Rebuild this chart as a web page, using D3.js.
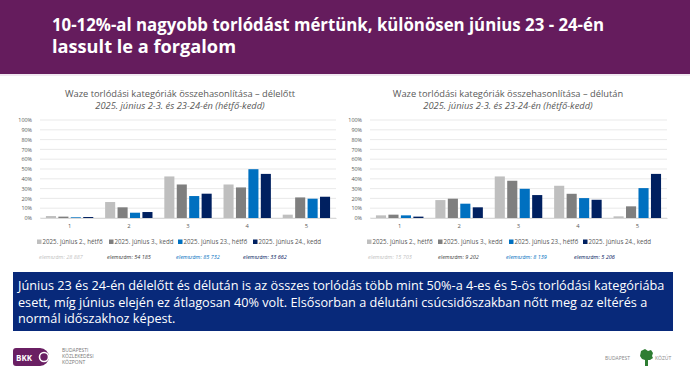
<!DOCTYPE html>
<html>
<head>
<meta charset="utf-8">
<script src="https://cdn.jsdelivr.net/npm/d3@7"></script>
<style>
  body { margin: 0; background: #fff; }
  svg { display: block; font-family: "Open Sans", "Noto Sans", sans-serif; }
</style>
</head>
<body>
<svg id="slide" width="690" height="374"></svg>
<script>
// categories and series
const categories = ["1", "2", "3", "4", "5"];
const seriesNames = ["2025. június 2., hétfő", "2025. június 3., kedd", "2025. június 23., hétfő", "2025. június 24., kedd"];
const seriesColors = ["#bfbfbf", "#7f7f7f", "#0070c0", "#002060"];
const countColors = ["#bfbfbf", "#404040", "#0070c0", "#002060"];

// délelőtt (%)
const amJun2 = [2.0, 16.3, 42.4, 34.2, 3.4];
const amJun3 = [1.4, 10.9, 34.2, 31.2, 21.0];
const amJun23 = [0.7, 5.4, 22.4, 49.8, 19.7];
const amJun24 = [1.0, 6.1, 24.8, 45.0, 21.7];
const amCounts = ["28 887", "54 185", "85 732", "33 662"];

// délután (%)
const pmJun2 = [2.7, 18.3, 42.4, 32.9, 1.7];
const pmJun3 = [3.4, 19.7, 38.0, 24.7, 11.9];
const pmJun23 = [2.7, 14.6, 29.8, 20.3, 30.5];
const pmJun24 = [1.4, 10.9, 23.4, 18.6, 45.0];
const pmCounts = ["15 703", "9 202", "8 139", "5 206"];

const yTicks = [0, 10, 20, 30, 40, 50, 60, 70, 80, 90, 100];

const svg = d3.select("#slide");

// header
svg.append("rect").attr("x", 0).attr("y", 0).attr("width", 690).attr("height", 74).attr("fill", "#651c5d");
svg.append("rect").attr("x", 0).attr("y", 74).attr("width", 690).attr("height", 2).attr("fill", "#f1e8f1");
svg.append("text").attr("x", 52).attr("y", 31)
  .attr("fill", "#fff").attr("font-size", 18).attr("font-weight", "bold")
  .attr("textLength", 552).attr("lengthAdjust", "spacingAndGlyphs")
  .text("10-12%-al nagyobb torlódást mértünk, különösen június  23 - 24-én");
svg.append("text").attr("x", 52).attr("y", 53)
  .attr("fill", "#fff").attr("font-size", 18).attr("font-weight", "bold")
  .attr("textLength", 184).attr("lengthAdjust", "spacingAndGlyphs")
  .text("lassult le a forgalom");

function drawChart(opts) {
  const g = svg.append("g");
  const x = d3.scaleBand().domain(categories).range([opts.left, opts.right]).paddingInner(0.2).paddingOuter(0.1);
  const xs = d3.scaleBand().domain(d3.range(seriesNames.length)).range([0, x.bandwidth()]).paddingInner(0.19);
  const y = d3.scaleLinear().domain([0, 100]).range([218, 120]);

  // titles
  g.append("text").attr("x", opts.titleX).attr("y", 97).attr("text-anchor", "middle")
    .attr("font-size", 9.3).attr("fill", "#595959").text(opts.title);
  g.append("text").attr("x", opts.titleX).attr("y", 109).attr("text-anchor", "middle")
    .attr("font-size", 9.3).attr("font-style", "italic").attr("fill", "#595959")
    .text("2025. június 2-3. és 23-24-én (hétfő-kedd)");

  // grid
  g.selectAll(".grid").data(yTicks).join("line")
    .attr("x1", opts.left).attr("x2", opts.right)
    .attr("y1", d => y(d)).attr("y2", d => y(d))
    .attr("stroke", "#e3e3e3").attr("stroke-width", 0.8);

  const yAxis = g.append("g").attr("transform", `translate(${opts.left - 5},0)`)
    .call(d3.axisLeft(y).tickValues(yTicks).tickSize(0).tickFormat(d => d + "%"));
  yAxis.select(".domain").remove();
  yAxis.selectAll("text").attr("font-size", 5.4).attr("fill", "#595959").attr("font-family", "Open Sans, sans-serif");

  const xAxis = g.append("g").attr("transform", "translate(0,218)")
    .call(d3.axisBottom(x).tickSize(0).tickPadding(6));
  xAxis.select(".domain").attr("stroke", "#d9d9d9");
  xAxis.selectAll("text").attr("font-size", 5.8).attr("fill", "#595959").attr("font-family", "Open Sans, sans-serif");

  // bars
  opts.series.forEach((vals, si) => {
    g.selectAll(null).data(vals).join("rect")
      .attr("x", (d, i) => x(categories[i]) + xs(si))
      .attr("width", xs.bandwidth())
      .attr("y", d => y(d))
      .attr("height", d => y(0) - y(d))
      .attr("fill", seriesColors[si]);
  });

  // legend
  seriesNames.forEach((name, si) => {
    const lx = opts.legendX[si];
    g.append("rect").attr("x", lx).attr("y", 239.5).attr("width", 4.5).attr("height", 4.5).attr("fill", seriesColors[si]);
    g.append("text").attr("x", lx + 5.5).attr("y", 244.3).attr("font-size", 6.2).attr("fill", "#595959").text(name);
    g.append("text").attr("x", opts.countX[si]).attr("y", 258.5).attr("font-size", 5.5).attr("font-style", "italic")
      .attr("fill", countColors[si]).text("elemszám: " + opts.counts[si]);
  });
}

drawChart({
  left: 40, right: 336, titleX: 180,
  title: "Waze torlódási kategóriák összehasonlítása – délelőtt",
  series: [amJun2, amJun3, amJun23, amJun24],
  counts: amCounts,
  legendX: [37, 109, 178, 253],
  countX: [39, 107, 176, 243]
});

drawChart({
  left: 370, right: 667, titleX: 508,
  title: "Waze torlódási kategóriák összehasonlítása – délután",
  series: [pmJun2, pmJun3, pmJun23, pmJun24],
  counts: pmCounts,
  legendX: [367, 438, 509, 583],
  countX: [368, 438, 506, 574]
});

// text box
svg.append("rect").attr("x", 13).attr("y", 272).attr("width", 660).attr("height", 59).attr("fill", "#08297a");
const boxLines = [
  "Június 23 és 24-én délelőtt és délután is az összes torlódás több mint 50%-a 4-es és 5-ös torlódási kategóriába",
  "esett, míg június elején ez átlagosan 40% volt. Elsősorban a délutáni csúcsidőszakban nőtt meg az eltérés a",
  "normál időszakhoz képest."
];
svg.selectAll(".boxline").data(boxLines).join("text")
  .attr("x", 18).attr("y", (d, i) => 290 + i * 16.5)
  .attr("font-size", 12.7).attr("fill", "#fff")
  .text(d => d);

// BKK logo
const bkk = svg.append("g");
bkk.append("path")
  .attr("d", "M16,348 H40 A9,9 0 1 1 40,366 H16 A3,3 0 0 1 13,363 V351 A3,3 0 0 1 16,348 Z")
  .attr("fill", "#6a1f63");
bkk.append("text").attr("x", 16).attr("y", 360.5).attr("font-size", 8).attr("font-weight", "bold").attr("fill", "#fff").text("BKK");
bkk.append("circle").attr("cx", 44).attr("cy", 357).attr("r", 4.5).attr("fill", "none").attr("stroke", "#fff").attr("stroke-width", 1.6);
["BUDAPESTI", "KÖZLEKEDÉSI", "KÖZPONT"].forEach((t, i) => {
  bkk.append("text").attr("x", 62).attr("y", 352 + i * 6).attr("font-size", 5).attr("fill", "#777").text(t);
});

// Budapest Közút logo
const bk = svg.append("g");
bk.append("text").attr("x", 605).attr("y", 360).attr("font-size", 5).attr("fill", "#888").text("BUDAPEST");
bk.append("path")
  .attr("d", "M641,351 l4,-2 l3,2 l3,-1 l2,3 l-1,3 l1,2 l-3,2 l-2,0 l0,6 l-3,0 l0,-6 l-3,-1 l-2,-3 z")
  .attr("fill", "#2e7d32");
bk.append("text").attr("x", 655).attr("y", 360).attr("font-size", 5).attr("fill", "#888").text("KÖZÚT");
</script>
</body>
</html>
